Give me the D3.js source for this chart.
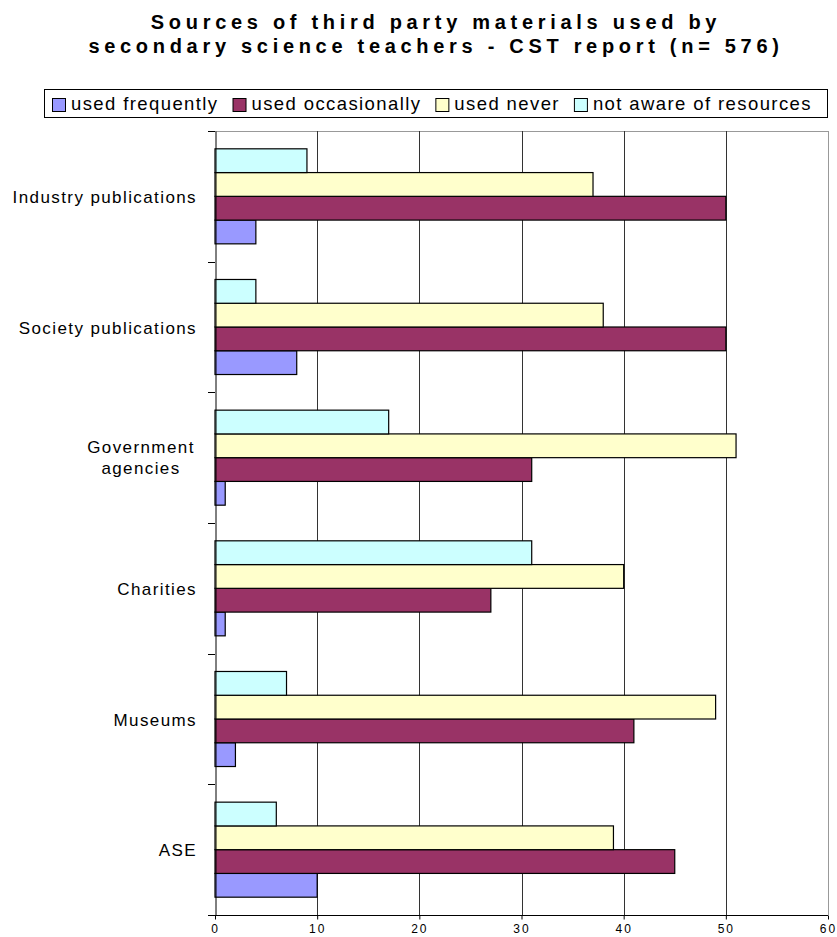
<!DOCTYPE html>
<html><head><meta charset="utf-8">
<script src="https://cdn.jsdelivr.net/npm/d3@7"></script>
<style>body{margin:0;background:#fff}svg{display:block;font-family:Arial,"Liberation Sans",sans-serif}</style>
</head><body><div id="chart"></div>
<script>
const categories = ["ASE","Museums","Charities","Government agencies","Society publications","Industry publications"];
const seriesNames = ["used frequently","used occasionally","used never","not aware of resources"];
const usedFrequently   = [10, 2, 1, 1, 8, 4];
const usedOccasionally = [45, 41, 27, 31, 50, 50];
const usedNever        = [39, 49, 40, 51, 38, 37];
const notAware         = [6, 7, 31, 17, 4, 9];
const seriesColors = ["#9999FF","#993366","#FFFFCC","#CCFFFF"];
const xTicks = [0,10,20,30,40,50,60];
const titleLines = ["Sources of third party materials used by","secondary science teachers - CST report (n= 576)"];

const W = 837, H = 937;
const m = {left:215, right:837-828, top:131, bottom:937-915};
const svg = d3.select("#chart").append("svg").attr("width",W).attr("height",H);
const allSeries = [usedFrequently, usedOccasionally, usedNever, notAware];

const x = d3.scaleLinear().domain([0,60]).range([m.left, W-m.right]);
const y = d3.scaleBand().domain(categories).range([H-m.bottom, m.top]).paddingInner(0).paddingOuter(0);
const inner = d3.scaleBand().domain(d3.range(4)).range([y.bandwidth()*0.75/5.5, y.bandwidth()*(1-0.75/5.5)]).padding(0);
const innerPos = i => inner(3-i);

// title
svg.append("g").selectAll("text").data(titleLines).join("text")
  .attr("x", 436).attr("y",(d,i)=>29+i*24)
  .attr("text-anchor","middle").attr("font-weight","bold").attr("font-size",20)
  .attr("letter-spacing",4.7).attr("fill","#000").text(d=>d);

// legend
const lg = svg.append("g");
lg.append("rect").attr("x",44.5).attr("y",89.5).attr("width",783).attr("height",28).attr("fill","#fff").attr("stroke","#000");
let lx = 52;
seriesNames.forEach((s,i)=>{
  const g = lg.append("g").attr("transform",`translate(${lx},0)`);
  g.append("rect").attr("x",0.5).attr("y",98.5).attr("width",13).attr("height",13).attr("fill",seriesColors[i]).attr("stroke","#000");
  const t = g.append("text").attr("x",19).attr("y",110).attr("font-size",18.5).attr("letter-spacing",1.4).attr("fill","#000").text(s);
  lx += 19 + t.node().getComputedTextLength() + 14;
});

// plot frame: gray top/right
svg.append("line").attr("x1",m.left).attr("x2",W-m.right).attr("y1",m.top+0.5).attr("y2",m.top+0.5).attr("stroke","#999");
svg.append("line").attr("x1",W-m.right+0.5).attr("x2",W-m.right+0.5).attr("y1",m.top).attr("y2",H-m.bottom).attr("stroke","#999");

// gridlines
svg.append("g").selectAll("line").data(xTicks.filter(t=>t>0 && t<60)).join("line")
  .attr("x1",d=>Math.round(x(d))+0.5).attr("x2",d=>Math.round(x(d))+0.5)
  .attr("y1",m.top).attr("y2",H-m.bottom).attr("stroke","#333");

// bars
categories.forEach((c,ci)=>{
  allSeries.forEach((arr,si)=>{
    svg.append("rect")
      .attr("x",x(0)).attr("y",y(c)+innerPos(si))
      .attr("width",x(arr[ci])-x(0)).attr("height",inner.bandwidth())
      .attr("fill",seriesColors[si]).attr("stroke","#000").attr("stroke-width",1.2);
  });
});

// y axis line
const yAxis = d3.axisLeft(y).tickSize(0).tickFormat("");
const yg = svg.append("g").attr("transform",`translate(${m.left+0.5},0)`).call(yAxis);
yg.selectAll(".tick").remove();
yg.select(".domain").attr("stroke","#000");
const bounds = categories.map(c=>y(c)).concat([H-m.bottom]);
svg.append("g").selectAll("line").data(bounds).join("line")
  .attr("x1",m.left-7).attr("x2",m.left).attr("y1",d=>Math.round(d)+0.5).attr("y2",d=>Math.round(d)+0.5).attr("stroke","#000");

// category labels
categories.forEach(c=>{
  const cy = y(c)+y.bandwidth()/2;
  const words = c==="Government agencies" ? ["Government","agencies"] : [c];
  const t = svg.append("text").attr("font-size",17).attr("letter-spacing",1.4).attr("fill","#000");
  if(words.length===1){
    t.attr("x",197).attr("y",cy+6.5).attr("text-anchor","end").text(c);
  } else {
    t.attr("text-anchor","middle");
    words.forEach((w,i)=>t.append("tspan").attr("x",141).attr("y",cy-5+i*21).text(w));
  }
});

// x axis
const xAxis = d3.axisBottom(x).tickValues(xTicks).tickSize(4).tickPadding(5);
const xg = svg.append("g").attr("transform",`translate(0,${H-m.bottom+0.5})`).call(xAxis);
xg.select(".domain").attr("d",`M${m.left-7},0H${W-m.right}`).attr("stroke","#000");
xg.selectAll(".tick line").attr("stroke","#000");
xg.selectAll(".tick text").attr("font-size",12).attr("letter-spacing",2).attr("fill","#000").attr("font-family","Arial, 'Liberation Sans', sans-serif");
</script></body></html>
